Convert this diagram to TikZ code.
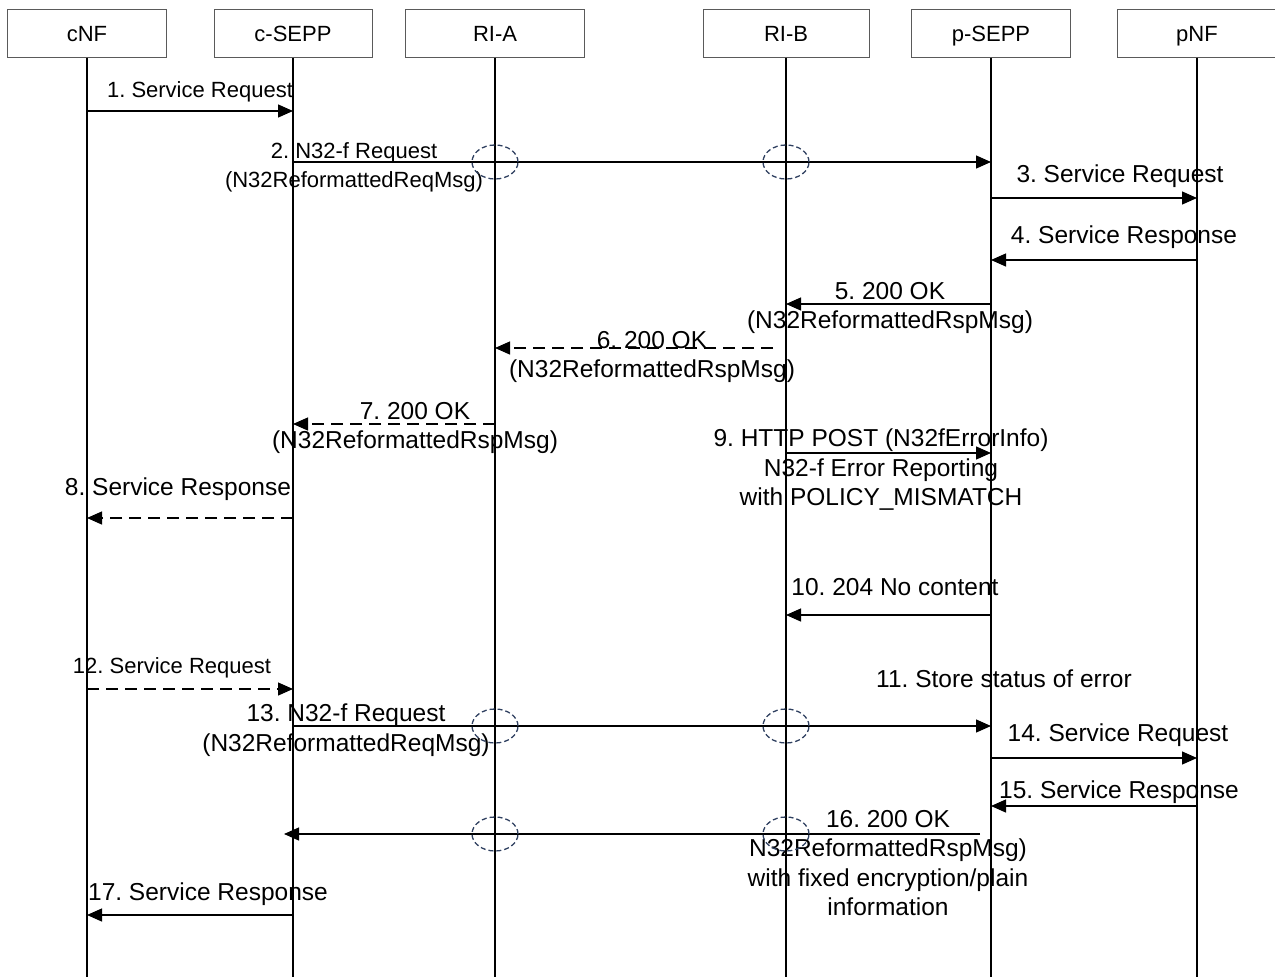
\documentclass[tikz,border=0pt]{standalone}
\usepackage{fontspec}
\setmainfont{Liberation Sans}
\usetikzlibrary{arrows.meta}
\definecolor{ringblue}{RGB}{47,64,96}
\definecolor{boxgray}{RGB}{90,90,90}
\frenchspacing

\begin{document}
\begin{tikzpicture}[x=1pt,y=-1pt,
  head/.style={draw=boxgray,line width=1pt,minimum height=48pt,inner sep=0pt,text height=16pt,text depth=0pt,font=\fontsize{22}{26}\selectfont},
  life/.style={line width=1.2pt},
  msg/.style={line width=1.3pt,-{Triangle[length=15pt,width=13pt]}},
  rmsg/.style={msg,dash pattern=on 12pt off 7pt},
  ring/.style={draw=ringblue,line width=1.3pt,dash pattern=on 5pt off 3pt},
  lbl/.style={inner sep=0pt,align=center,font=\fontsize{24.5}{29.5}\selectfont},
  slbl/.style={lbl,font=\fontsize{22}{29}\selectfont}]
  \useasboundingbox (0,0) rectangle (1275,977);
  \node[head,minimum width=159pt] (cnf) at (87,33) {cNF};
  \node[head,minimum width=158pt] (csepp) at (293,33) {c-SEPP};
  \node[head,minimum width=179pt] (ria) at (495,33) {RI-A};
  \node[head,minimum width=166pt] (rib) at (786,33) {RI-B};
  \node[head,minimum width=159pt] (psepp) at (991,33) {p-SEPP};
  \node[head,minimum width=160pt] (pnf) at (1197,33) {pNF};
  \draw[life] (cnf) -- (cnf |- 0,977);
  \draw[life] (csepp) -- (csepp |- 0,977);
  \draw[life] (ria) -- (ria |- 0,977);
  \draw[life] (rib) -- (rib |- 0,977);
  \draw[life] (psepp) -- (psepp |- 0,977);
  \draw[life] (pnf) -- (pnf |- 0,977);

  \node[slbl] (l1) at (200,92) {1. Service Request};
  \draw[msg] (cnf |- 0,111) -- (csepp |- 0,111);
  \node[slbl] (l2) at (354,167) {2. N32-f Request\\(N32ReformattedReqMsg)};
  \draw[msg] (csepp |- 0,162) -- (psepp |- 0,162);
  \draw[ring] (ria |- 0,162) ellipse [x radius=23pt,y radius=17pt];
  \draw[ring] (rib |- 0,162) ellipse [x radius=23pt,y radius=17pt];
  \node[lbl] (l3) at (1120,176) {3. Service Request};
  \draw[msg] (psepp |- 0,198) -- (pnf |- 0,198);
  \node[lbl] (l4) at (1124,237) {4. Service Response};
  \draw[msg] (pnf |- 0,260) -- (psepp |- 0,260);
  \node[lbl] (l5) at (890,308) {5. 200 OK\\(N32ReformattedRspMsg)};
  \draw[msg] (psepp |- 0,304) -- (rib |- 0,304);
  \node[lbl] (l6) at (652,357) {6. 200 OK\\(N32ReformattedRspMsg)};
  \coordinate (m6) at (773,348);
  \draw[rmsg] (m6) -- (ria |- m6);
  \node[lbl] (l7) at (415,428) {7. 200 OK\\(N32ReformattedRspMsg)};
  \draw[rmsg] (ria |- 0,424) -- (csepp |- 0,424);
  \node[lbl] (l9) at (881,470) {9. HTTP POST (N32fErrorInfo)\\N32-f Error Reporting\\with POLICY\_MISMATCH};
  \draw[msg] (rib |- 0,453) -- (psepp |- 0,453);
  \node[lbl] (l8) at (178,489) {8. Service Response};
  \draw[rmsg] (csepp |- 0,518) -- (cnf |- 0,518);
  \node[lbl] (l10) at (895,587) {10. 204 No content};
  \draw[msg] (psepp |- 0,615) -- (rib |- 0,615);
  \node[slbl] (l12) at (172,668) {12. Service Request};
  \draw[rmsg] (cnf |- 0,689) -- (csepp |- 0,689);
  \node[lbl] (l11) at (1004,679) {11. Store status of error};
  \node[lbl] (l13) at (346,730) {13. N32-f Request\\(N32ReformattedReqMsg)};
  \draw[msg] (csepp |- 0,726) -- (psepp |- 0,726);
  \draw[ring] (ria |- 0,726) ellipse [x radius=23pt,y radius=17pt];
  \draw[ring] (rib |- 0,726) ellipse [x radius=23pt,y radius=17pt];
  \node[lbl] (l14) at (1118,735) {14. Service Request};
  \draw[msg] (psepp |- 0,758) -- (pnf |- 0,758);
  \node[lbl] (l15) at (1119,792) {15. Service Response};
  \draw[msg] (pnf |- 0,806) -- (psepp |- 0,806);
  \node[lbl] (l16) at (888,863) {16. 200 OK\\N32ReformattedRspMsg)\\with fixed encryption/plain\\information};
  \coordinate (m16) at (980,834);
  \coordinate (m16e) at (284,834);
  \draw[msg] (m16) -- (m16e);
  \draw[ring] (ria |- 0,834) ellipse [x radius=23pt,y radius=17pt];
  \draw[ring] (rib |- 0,834) ellipse [x radius=23pt,y radius=17pt];
  \node[lbl] (l17) at (208,894) {17. Service Response};
  \draw[msg] (csepp |- 0,915) -- (cnf |- 0,915);
\end{tikzpicture}
\end{document}
